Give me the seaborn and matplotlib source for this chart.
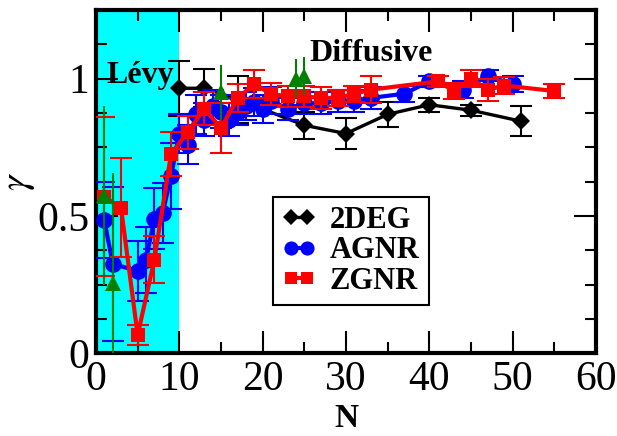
import numpy as np
import pandas as pd
import matplotlib
matplotlib.use("Agg")
import matplotlib.pyplot as plt
from matplotlib.ticker import MultipleLocator, FuncFormatter
import seaborn as sns

# Anomalous-diffusion exponent gamma versus system size N
deg_n = [10, 13, 17, 25, 30, 35, 40, 45, 51]
deg_g = [0.965, 0.965, 0.925, 0.83, 0.80, 0.87, 0.905, 0.885, 0.845]
deg_e = [0.10, 0.07, 0.085, 0.05, 0.055, 0.045, 0.025, 0.02, 0.055]

agnr_n = [1, 2, 5, 6, 7, 8, 9, 10, 11, 12, 13, 14, 15, 16, 17, 18, 19, 20, 21,
          23, 25, 27, 29, 31, 33, 37, 40, 44, 47, 50]
agnr_g = [0.485, 0.325, 0.30, 0.34, 0.49, 0.51, 0.645, 0.80, 0.76, 0.87, 0.85,
          0.90, 0.88, 0.85, 0.88, 0.90, 0.915, 0.89, 0.92, 0.89, 0.91, 0.91,
          0.92, 0.92, 0.93, 0.945, 0.99, 0.96, 1.01, 0.98]
agnr_e = [0.14, 0.28, 0.11, 0.12, 0.11, 0.11, 0.12, 0.07, 0.07, 0.07, 0.06,
          0.06, 0.06, 0.06, 0.05, 0.05, 0.05, 0.05, 0.05, 0.04, 0.04, 0.04,
          0.04, 0.04, 0.04, 0.03, 0.02, 0.03, 0.02, 0.03]

zgnr_n = [1, 3, 5, 7, 9, 11, 13, 15, 17, 19, 21, 23, 25, 27, 29, 31, 33,
          41, 43, 45, 47, 49, 55]
zgnr_g = [0.57, 0.53, 0.066, 0.34, 0.725, 0.805, 0.89, 0.82, 0.93, 0.98,
          0.945, 0.935, 0.935, 0.93, 0.93, 0.945, 0.96, 0.99, 0.955, 1.0,
          0.96, 0.975, 0.955]
zgnr_e = [0.29, 0.18, 0.036, 0.085, 0.08, 0.06, 0.06, 0.09, 0.05, 0.05, 0.04,
          0.04, 0.04, 0.04, 0.03, 0.03, 0.05, 0.02, 0.03, 0.03, 0.04, 0.03,
          0.025]

extra_n = [1, 2, 15, 24, 25]
extra_g = [0.575, 0.255, 0.95, 1.0, 1.01]
extra_e = [0.325, 0.40, 0.10, 0.07, 0.07]

series = ["2DEG", "AGNR", "ZGNR"]
colors = {"2DEG": "black", "AGNR": "#0000ff", "ZGNR": "#ff0000"}
markers = {"2DEG": "D", "AGNR": "o", "ZGNR": "s"}
msizes = {"2DEG": 9, "AGNR": 12, "ZGNR": 10}
lwidths = {"2DEG": 2.4, "AGNR": 3.0, "ZGNR": 3.0}

frames = []
for name, n, g, e in [("2DEG", deg_n, deg_g, deg_e),
                      ("AGNR", agnr_n, agnr_g, agnr_e),
                      ("ZGNR", zgnr_n, zgnr_g, zgnr_e)]:
    frames.append(pd.DataFrame({"N": n, "gamma": g, "err": e, "system": name}))
df = pd.concat(frames, ignore_index=True)

sns.set_theme(style="ticks")
plt.rcParams["font.family"] = ["Liberation Serif", "DejaVu Serif"]
plt.rcParams["mathtext.fontset"] = "stix"
for key in ["text.color", "axes.labelcolor", "xtick.color", "ytick.color",
            "axes.edgecolor"]:
    plt.rcParams[key] = "black"

fig = plt.figure(figsize=(6.17, 4.36), dpi=100)
ax = fig.add_axes([0.1556, 0.19, 0.8104, 0.787])

# shaded Levy regime
ax.axvspan(0, 10, color="#00ffff", zorder=0, lw=0)

for i, name in enumerate(series):
    sub = df[df["system"] == name]
    ax.errorbar(sub["N"], sub["gamma"], yerr=sub["err"], fmt="none",
                ecolor=colors[name], elinewidth=1.5, capsize=8, capthick=1.5,
                zorder=2 + i)
    sns.lineplot(data=sub, x="N", y="gamma", ax=ax, color=colors[name],
                 marker=markers[name], markersize=msizes[name],
                 markeredgecolor=colors[name], markeredgewidth=0,
                 linewidth=lwidths[name], label=name, zorder=2.5 + i,
                 errorbar=None, sort=True)

ax.errorbar(extra_n, extra_g, yerr=extra_e, fmt="^", color="green",
            markersize=11, elinewidth=1.5, capsize=8, capthick=1.5,
            zorder=6, markeredgewidth=0)

ax.set_xlim(0, 60)
ax.set_ylim(0, 1.25)
ax.xaxis.set_major_locator(MultipleLocator(10))
ax.xaxis.set_minor_locator(MultipleLocator(5))
ax.yaxis.set_major_locator(MultipleLocator(0.5))
ax.yaxis.set_minor_locator(MultipleLocator(0.125))
ax.yaxis.set_major_formatter(FuncFormatter(lambda v, p: "%g" % v))

ax.tick_params(which="both", direction="in", top=True, right=True,
               labelsize=30, width=1.5, colors="black", pad=5)
ax.tick_params(which="major", length=16)
ax.tick_params(which="minor", length=8)
for sp in ax.spines.values():
    sp.set_linewidth(3)
    sp.set_color("black")

ax.set_xlabel("N", fontsize=24, fontweight="bold", labelpad=3)
ax.set_ylabel(r"$\gamma$", fontsize=28, labelpad=0)

ax.text(1.3, 1.01, "Lévy", fontsize=23, fontweight="bold", va="center",
        ha="left", zorder=7)
ax.text(25.6, 1.09, "Diffusive", fontsize=23, fontweight="bold",
        va="center", ha="left", zorder=7)

leg = ax.legend(loc="lower left", bbox_to_anchor=(0.354, 0.14),
                numpoints=2, fancybox=False, framealpha=1, edgecolor="black",
                prop={"weight": "bold", "size": 22}, handlelength=1.1,
                borderpad=0.3, labelspacing=0.05, handletextpad=0.45,
                borderaxespad=0, markerscale=0.85)
leg.get_frame().set_linewidth(1.5)
for t in leg.get_texts():
    t.set_color("black")

fig.savefig("out.png", dpi=100)
